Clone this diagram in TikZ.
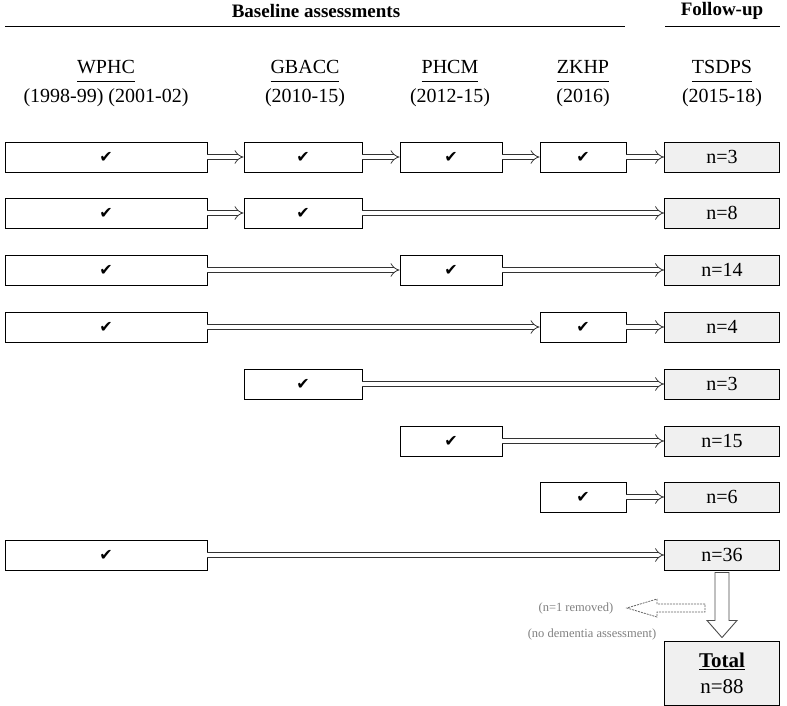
\documentclass[tikz,border=0pt]{standalone}
\usepackage{fontspec}
\setmainfont{Liberation Serif}
\newfontfamily\symf{DejaVu Sans}
\usetikzlibrary{arrows.meta,calc}
\begin{document}
\begin{tikzpicture}[x=1pt,y=-1pt,
  cbox/.style={draw,line width=0.9pt,minimum height=30pt,inner sep=0pt,font=\symf\fontsize{16}{16}\selectfont},
  fbox/.style={draw,line width=0.9pt,fill=black!6,minimum width=115pt,minimum height=30pt,inner sep=0pt,font=\fontsize{20}{20}\selectfont},
  harr/.style={draw=black!80,double=white,double distance=4pt,line width=0.8pt,-{Implies[length=7pt]}},
  hd/.style={font=\fontsize{20}{22}\selectfont},
  ]
\useasboundingbox (0,0) rectangle (787,706);
\node[font=\bfseries\fontsize{19}{20}\selectfont] (bl) at (316,11) {Baseline assessments};
\node[font=\bfseries\fontsize{19}{20}\selectfont] (fu) at (722,11) {Follow-up};
\coordinate (bla) at (5,26); \coordinate (blb) at (625,26);
\coordinate (fua) at (665,26); \coordinate (fub) at (780,26);
\draw[line width=0.8pt] (bla) -- (blb); \draw[line width=0.8pt] (fua) -- (fub);
\node[hd] (h1) at (106,70) {\underline{WPHC\strut}};
\node[hd] (h1b) at (106,98) {(1998-99) (2001-02)};
\node[hd] (h2) at (305,70) {\underline{GBACC\strut}};
\node[hd] (h2b) at (305,98) {(2010-15)};
\node[hd] (h3) at (450,70) {\underline{PHCM\strut}};
\node[hd] (h3b) at (450,98) {(2012-15)};
\node[hd] (h4) at (583,70) {\underline{ZKHP\strut}};
\node[hd] (h4b) at (583,98) {(2016)};
\node[hd] (h5) at (722,70) {\underline{TSDPS\strut}};
\node[hd] (h5b) at (722,98) {(2015-18)};
\foreach \r/\y/\cols/\n in {1/157/{1,2,3,4}/3, 2/213/{1,2}/8, 3/270/{1,3}/14, 4/327/{1,4}/4, 5/384/{2}/3, 6/441/{3}/15, 7/497/{4}/6, 8/555/{1}/36}{
  \node[fbox] (f\r) at (722,\y) {n=\n};
  \foreach \c in \cols {
    \ifcase\c\or
      \node[cbox,minimum width=202pt] (r\r c\c) at (106,\y) {✔};\or
      \node[cbox,minimum width=118pt] (r\r c\c) at (303,\y) {✔};\or
      \node[cbox,minimum width=102pt] (r\r c\c) at (451,\y) {✔};\or
      \node[cbox,minimum width=86pt] (r\r c\c) at (583,\y) {✔};\fi
  }
}
\draw[harr] (r1c1) -- (r1c2); \draw[harr] (r1c2) -- (r1c3); \draw[harr] (r1c3) -- (r1c4); \draw[harr] (r1c4) -- (f1);
\draw[harr] (r2c1) -- (r2c2); \draw[harr] (r2c2) -- (f2);
\draw[harr] (r3c1) -- (r3c3); \draw[harr] (r3c3) -- (f3);
\draw[harr] (r4c1) -- (r4c4); \draw[harr] (r4c4) -- (f4);
\draw[harr] (r5c2) -- (f5);
\draw[harr] (r6c3) -- (f6);
\draw[harr] (r7c4) -- (f7);
\draw[harr] (r8c1) -- (f8);
\node[draw,line width=0.9pt,fill=black!6,minimum width=115pt,minimum height=64pt,align=center,inner sep=2pt,font=\fontsize{21}{26}\selectfont] (tot) at (722,673) {\textbf{\underline{Total}}\\n=88};
\draw[black!70,line width=0.9pt,fill=white] ($(f8.south)+(-7,2)$) -- ++(0,48) -- ++(-8,0) -- ($(tot.north)+(0,-3)$) -- ($(f8.south)+(15,50)$) -- ++(-8,0) -- ($(f8.south)+(7,2)$) -- cycle;
\coordinate (ds) at (705,608);
\node[text=black!50,font=\fontsize{12.5}{14}\selectfont] (rm) at (576,608) {(n=1 removed)};
\node[text=black!50,font=\fontsize{12.5}{14}\selectfont] (nd) at (592,634) {(no dementia assessment)};
\draw[black!60,line width=0.8pt,dashed,dash pattern=on 2pt off 1pt] ($(ds)+(0,-4)$) -- ++(-48,0) -- ++(0,-5) -- ($(rm.east)+(10,0)$) -- ($(ds)+(-48,9)$) -- ++(0,-5) -- ($(ds)+(0,4)$) -- cycle;
\end{tikzpicture}
\end{document}
